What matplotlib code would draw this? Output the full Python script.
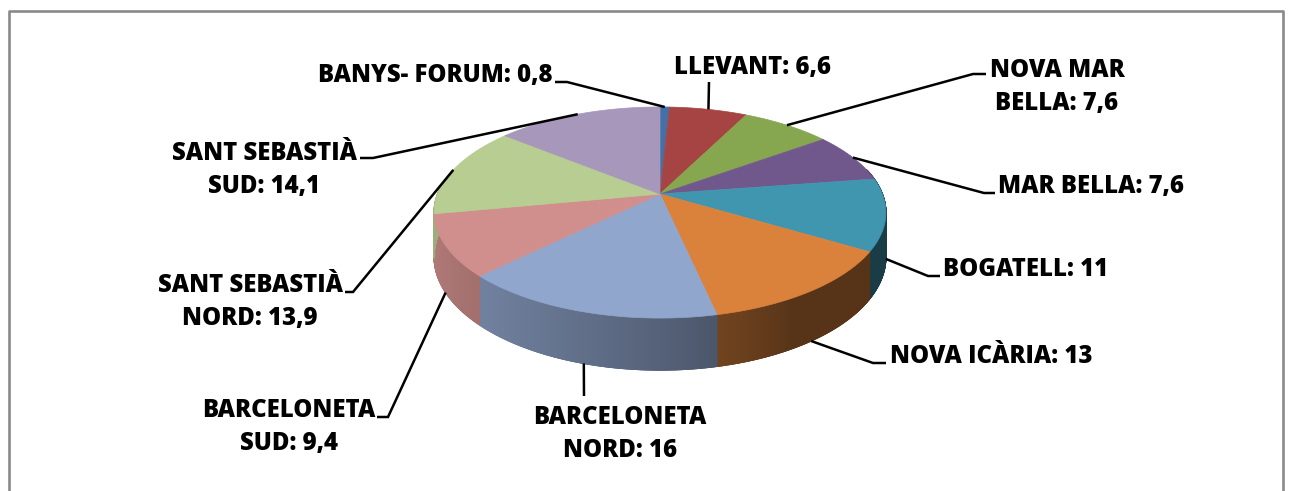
import numpy as np
import matplotlib.pyplot as plt
from matplotlib.colors import to_rgb
from matplotlib.patches import Polygon
from matplotlib.collections import PolyCollection

# data (clockwise from 12 o'clock)
names = ["BANYS- FORUM", "LLEVANT", "NOVA MAR\nBELLA", "MAR BELLA", "BOGATELL",
         "NOVA ICÀRIA", "BARCELONETA\nNORD", "BARCELONETA\nSUD",
         "SANT SEBASTIÀ\nNORD", "SANT SEBASTIÀ\nSUD"]
values = [0.8, 6.6, 7.6, 7.6, 11, 13, 16, 9.4, 13.9, 14.1]
colors = ["#4470A8", "#A54443", "#87A650", "#70588C", "#4196AF",
          "#DA823C", "#91A6CD", "#D08F8C", "#B7CD91", "#A797BB"]

# label layout: anchor (last-line baseline), alignment, leader elbow / end points
label_pos = [(552, 82), (752, 74), (1057, 110), (998, 193), (943, 276),
             (890, 363), (620, 457), (289, 450), (250, 325), (264, 193)]
label_ha = ["right", "center", "center", "left", "left",
            "left", "center", "center", "center", "center"]
leaders = [[(567, 82), (555, 82)], [(709, 82)], [(973, 74), (986, 74)],
           [(984, 193), (995, 193)], [(928, 276), (940, 276)],
           [(873, 363), (886, 363)], [(584, 396)], [(388, 417), (377, 417)],
           [(353, 292), (345, 292)], [(373, 158), (360, 158)]]

W, H = 1290, 491
fig = plt.figure(figsize=(W / 100, H / 100), dpi=100)
ax = fig.add_axes([0, 0, 1, 1])
ax.set_xlim(0, W)
ax.set_ylim(H, 0)
ax.axis("off")

# chart border
ax.plot([8.5, 8.5, 1283, 1283], [H + 5, 11, 11, H + 5], color="#8a8a8a", lw=1.9)

# 3d pie projection
cx, cy = 660, 194
rx, ry = 222.4, 102.3
k = -0.1754
depth = 42.9


def project(t):
    u = np.sin(t)
    v = -np.cos(t)
    s = 1 + k * v
    return cx + rx * u / s, cy + ry * v / s, depth / s, u, v


def shade(u):
    f = np.clip((0.5 - u) / 1.5, 0, 1) ** 0.8
    return 0.40 + 0.45 * f


fracs = np.array(values) / sum(values)
bounds = np.concatenate([[0], np.cumsum(fracs)]) * 2 * np.pi

# side walls, only the front half is visible
quads, qcols = [], []
for i in range(len(values)):
    t0 = max(bounds[i], np.pi / 2 - 0.25)
    t1 = min(bounds[i + 1], 3 * np.pi / 2 + 0.25)
    if t1 <= t0:
        continue
    n = max(3, int((t1 - t0) / 0.004))
    t = np.linspace(t0, t1, n)
    x, y, d, u, v = project(t)
    base = np.array(to_rgb(colors[i]))
    for j in range(len(t) - 1):
        j2 = min(j + 2, len(t) - 1)
        quads.append([(x[j], y[j]), (x[j2], y[j2]),
                      (x[j2], y[j2] + d[j2]), (x[j], y[j] + d[j])])
        qcols.append(np.clip(base * shade((u[j] + u[j + 1]) / 2), 0, 1))
pc = PolyCollection(quads, facecolors=qcols, edgecolors=qcols, linewidths=0.8)
ax.add_collection(pc)

# top faces
for i in range(len(values)):
    t = np.linspace(bounds[i], bounds[i + 1], 200)
    x, y, d, u, v = project(t)
    pts = [(cx, cy)] + list(zip(x, y))
    ax.add_patch(Polygon(pts, closed=True, facecolor=colors[i], edgecolor=colors[i], lw=0.5))

# labels and leader lines
for i in range(len(values)):
    mid = (bounds[i] + bounds[i + 1]) / 2
    x, y, d, u, v = project(mid)
    if v > 0.1:
        y = y + d
    pts = [(x, y)] + leaders[i]
    ax.plot([p[0] for p in pts], [p[1] for p in pts], color="black", lw=1.8,
            solid_capstyle="butt", solid_joinstyle="miter")
    val = f"{values[i]:g}".replace(".", ",")
    lx, ly = label_pos[i]
    ax.text(lx, ly, f"{names[i]}: {val}", ha=label_ha[i], va="baseline",
            fontsize=17.2, fontweight=800, family="Open Sans", linespacing=1.4)

fig.savefig("out.png", dpi=100)
